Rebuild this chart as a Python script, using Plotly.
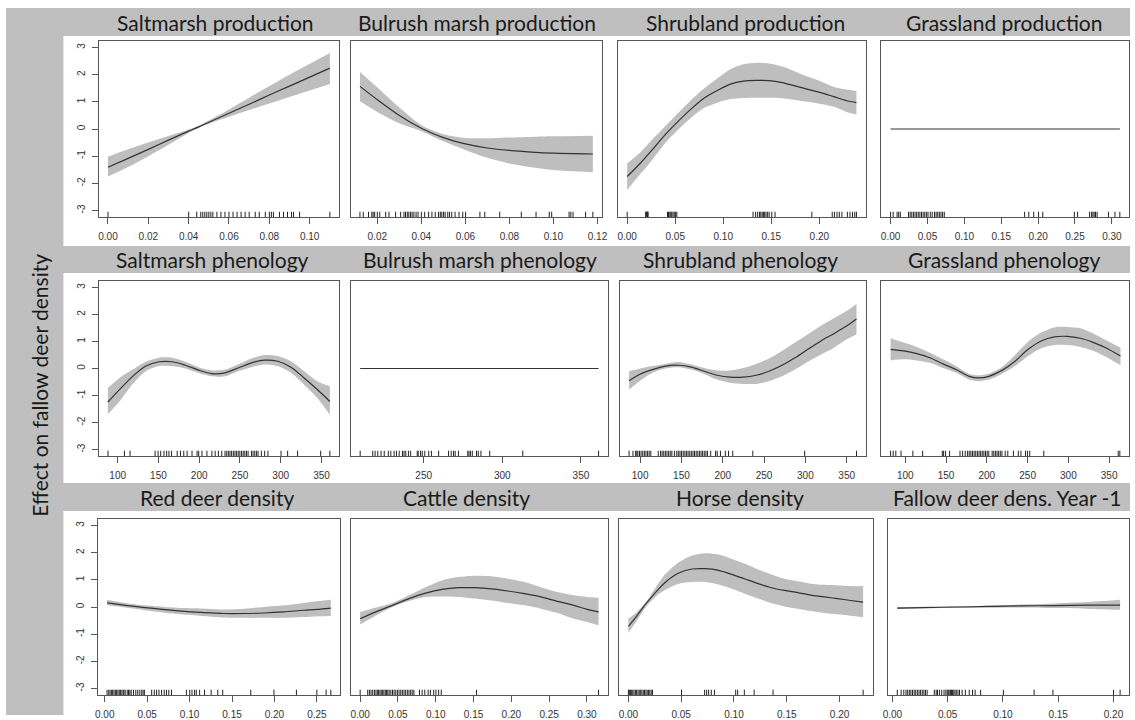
import plotly.graph_objects as go

# ---------------- data: smooth terms (fit, upper / lower band, rug) ----------------
# Saltmarsh production
salt_prod_x = [0.0, 0.01, 0.02, 0.03, 0.04, 0.045, 0.05, 0.06, 0.07, 0.08, 0.09, 0.10, 0.11]
salt_prod_fit = [-1.41, -1.08, -0.75, -0.41, -0.08, 0.08, 0.25, 0.58, 0.91, 1.25, 1.58, 1.91, 2.24]
salt_prod_up = [-1.02, -0.75, -0.50, -0.26, -0.02, 0.12, 0.31, 0.72, 1.15, 1.58, 2.00, 2.40, 2.80]
salt_prod_lo = [-1.75, -1.40, -1.00, -0.58, -0.15, 0.04, 0.19, 0.45, 0.70, 0.94, 1.18, 1.42, 1.66]
salt_prod_rug = [0.0, 0.040, 0.044, 0.046, 0.047, 0.048, 0.049, 0.050, 0.051, 0.052, 0.054, 0.056,
                 0.058, 0.060, 0.062, 0.064, 0.066, 0.068, 0.070, 0.073, 0.075, 0.078, 0.080, 0.081,
                 0.082, 0.085, 0.087, 0.089, 0.091, 0.092, 0.095, 0.110]

# Bulrush marsh production
bul_prod_x = [0.0121, 0.02, 0.03, 0.04, 0.05, 0.06, 0.07, 0.08, 0.09, 0.10, 0.1179]
bul_prod_fit = [1.57, 1.08, 0.50, 0.03, -0.32, -0.55, -0.70, -0.79, -0.85, -0.89, -0.92]
bul_prod_up = [2.10, 1.53, 0.79, 0.14, -0.19, -0.33, -0.34, -0.31, -0.29, -0.27, -0.25]
bul_prod_lo = [1.02, 0.63, 0.21, -0.08, -0.45, -0.77, -1.06, -1.27, -1.41, -1.51, -1.59]
bul_prod_rug = [0.0121, 0.0136, 0.016, 0.0175, 0.0181, 0.0188, 0.020, 0.0211, 0.0238, 0.0253, 0.0283,
                0.0306, 0.0321, 0.0328, 0.0336, 0.0343, 0.0351, 0.0358, 0.0366, 0.0376, 0.0385, 0.040,
                0.0415, 0.0433, 0.0448, 0.0463, 0.0478, 0.0486, 0.0493, 0.0501, 0.0508, 0.052, 0.0528,
                0.0538, 0.0553, 0.0571, 0.0588, 0.0601, 0.0666, 0.0688, 0.0756, 0.0854, 0.0921, 0.0981,
                0.0992, 0.1071, 0.1079, 0.1089, 0.1146, 0.1179]

# Shrubland production
shrub_prod_x = [0.0, 0.0134, 0.0269, 0.0403, 0.0538, 0.0672, 0.0806, 0.0941, 0.1075, 0.121, 0.1344,
                0.1478, 0.1613, 0.1747, 0.1882, 0.2016, 0.2151, 0.2285, 0.2386]
shrub_prod_fit = [-1.75, -1.27, -0.73, -0.18, 0.31, 0.76, 1.15, 1.42, 1.65, 1.76, 1.79, 1.78, 1.71,
                  1.59, 1.46, 1.34, 1.19, 1.04, 0.97]
shrub_prod_up = [-1.26, -0.87, -0.36, 0.13, 0.62, 1.09, 1.51, 1.87, 2.20, 2.38, 2.44, 2.41, 2.30,
                 2.12, 1.92, 1.75, 1.55, 1.45, 1.40]
shrub_prod_lo = [-2.24, -1.67, -1.10, -0.49, 0.00, 0.43, 0.79, 0.97, 1.10, 1.14, 1.15, 1.15, 1.13,
                 1.07, 1.00, 0.92, 0.82, 0.63, 0.53]
shrub_prod_rug = [0.0, 0.0192, 0.0198, 0.0205, 0.0212, 0.0218, 0.042, 0.043, 0.0444, 0.0454, 0.0464,
                  0.0477, 0.049, 0.0504, 0.0517, 0.131, 0.1337, 0.1358, 0.1378, 0.1391, 0.1405, 0.1418,
                  0.1431, 0.1445, 0.1462, 0.1478, 0.1505, 0.1539, 0.1922, 0.2134, 0.2157, 0.2184,
                  0.2208, 0.2235, 0.2292, 0.2319, 0.2345, 0.2369, 0.2386]

# Grassland production (term shrunk to zero)
grass_prod_x = [0.0, 0.3108]
grass_prod_fit = [0.0, 0.0]
grass_prod_rug = [0.0, 0.0035, 0.0088, 0.011, 0.0132, 0.0243, 0.0265, 0.0287, 0.0309, 0.0331, 0.0353,
                  0.0375, 0.0397, 0.0419, 0.0441, 0.0463, 0.0485, 0.0507, 0.0538, 0.0564, 0.0595,
                  0.0617, 0.0639, 0.0661, 0.0683, 0.0705, 0.0728, 0.1817, 0.1874, 0.194, 0.2006,
                  0.2063, 0.2491, 0.2535, 0.2698, 0.2725, 0.2743, 0.276, 0.2778, 0.28, 0.2954,
                  0.3042, 0.3108]

# Saltmarsh phenology
salt_phen_x = [88.0, 102.2, 118.4, 134.6, 150.8, 167.0, 183.1, 199.3, 215.5, 231.7, 247.8, 264.1,
               280.2, 296.4, 312.6, 328.8, 344.9, 360.3]
salt_phen_fit = [-1.24, -0.78, -0.29, 0.09, 0.25, 0.25, 0.12, -0.06, -0.19, -0.16, 0.02, 0.21,
                 0.31, 0.27, 0.05, -0.35, -0.78, -1.22]
salt_phen_up = [-0.72, -0.35, -0.04, 0.25, 0.40, 0.40, 0.25, 0.05, -0.07, -0.04, 0.15, 0.37,
                0.50, 0.46, 0.27, -0.10, -0.47, -0.66]
salt_phen_lo = [-1.69, -1.22, -0.57, -0.10, 0.09, 0.09, 0.00, -0.17, -0.29, -0.29, -0.10, 0.05,
                0.15, 0.09, -0.16, -0.60, -1.09, -1.71]
salt_phen_rug = [88.1, 108.3, 115.2, 145.9, 149.6, 152.8, 156.8, 160.1, 162.9, 166.1, 173.0, 177.1,
                 181.1, 185.2, 191.2, 197.4, 199.4, 203.4, 209.5, 215.6, 219.6, 223.6, 227.7, 231.7,
                 233.8, 235.8, 237.8, 239.8, 241.9, 243.9, 245.9, 247.9, 249.9, 252.0, 254.0, 256.0,
                 258.0, 260.0, 264.1, 266.1, 268.2, 270.2, 272.2, 276.3, 280.3, 284.3, 300.4, 308.5,
                 320.7, 349.0, 360.3]

# Bulrush marsh phenology (term shrunk to zero)
bul_phen_x = [209.6, 361.2]
bul_phen_fit = [0.0, 0.0]
bul_phen_rug = [209.6, 217.6, 219.1, 220.8, 222.9, 224.9, 227.5, 229.1, 231.2, 232.7, 234.4, 236.5,
                237.5, 238.6, 240.3, 241.7, 245.9, 246.5, 248.0, 249.1, 250.7, 253.2, 254.9, 259.5,
                265.8, 267.5, 269.0, 270.0, 272.1, 278.0, 278.8, 279.7, 280.9, 283.6, 284.7, 286.4,
                292.0, 313.0, 361.2]

# Shrubland phenology
shrub_phen_x = [86.6, 99.2, 114.9, 130.5, 146.2, 161.9, 177.6, 193.3, 209.0, 224.7, 240.4, 256.0,
                271.7, 287.4, 303.1, 318.8, 334.5, 350.2, 361.9]
shrub_phen_fit = [-0.45, -0.22, -0.04, 0.09, 0.12, 0.05, -0.10, -0.25, -0.32, -0.32, -0.25, -0.10,
                  0.12, 0.40, 0.71, 1.02, 1.29, 1.58, 1.83]
shrub_phen_up = [-0.10, -0.01, 0.09, 0.17, 0.24, 0.15, 0.02, -0.07, -0.07, 0.02, 0.17, 0.37, 0.65,
                 0.96, 1.27, 1.58, 1.86, 2.14, 2.39]
shrub_phen_lo = [-0.78, -0.47, -0.16, 0.00, 0.05, -0.04, -0.20, -0.41, -0.53, -0.57, -0.57, -0.47,
                 -0.29, -0.04, 0.25, 0.52, 0.77, 1.08, 1.27]
shrub_phen_rug = [86.6, 91.3, 94.5, 96.0, 97.2, 99.2, 101.1, 103.1, 105.1, 107.0, 109.0, 110.9, 112.9,
                  121.9, 124.7, 126.6, 128.6, 130.5, 132.5, 134.5, 136.4, 138.4, 141.5, 144.3, 146.2,
                  148.2, 150.1, 152.1, 154.1, 156.0, 158.0, 160.0, 161.9, 163.9, 165.8, 167.8, 169.8,
                  171.7, 173.7, 175.6, 177.6, 179.6, 181.5, 185.4, 191.3, 193.3, 197.2, 203.1, 207.0,
                  212.1, 236.4, 299.2, 361.9]

# Grassland phenology
grass_phen_x = [82.0, 98.0, 114.1, 130.2, 146.2, 162.3, 178.3, 190.4, 202.4, 218.5, 234.6, 250.6,
                266.7, 282.8, 298.8, 314.9, 331.0, 347.0, 363.9]
grass_phen_fit = [0.71, 0.65, 0.55, 0.40, 0.17, -0.04, -0.29, -0.35, -0.29, -0.07, 0.27, 0.71, 1.02,
                  1.17, 1.19, 1.12, 0.96, 0.75, 0.46]
grass_phen_up = [1.12, 0.96, 0.80, 0.58, 0.34, 0.09, -0.20, -0.25, -0.19, 0.05, 0.50, 0.99, 1.33,
                 1.52, 1.54, 1.49, 1.29, 1.04, 0.77]
grass_phen_lo = [0.30, 0.34, 0.30, 0.21, 0.02, -0.16, -0.41, -0.47, -0.41, -0.20, 0.09, 0.46, 0.75,
                 0.87, 0.87, 0.80, 0.65, 0.42, 0.12]
grass_phen_rug = [82.0, 85.2, 88.4, 94.8, 109.3, 121.3, 145.4, 147.0, 149.4, 154.3, 167.1, 170.3,
                  173.5, 176.4, 178.4, 180.4, 182.4, 184.4, 186.4, 188.4, 190.4, 192.4, 194.4, 196.4,
                  198.4, 200.4, 202.4, 206.5, 208.5, 210.5, 212.5, 214.5, 216.5, 218.5, 222.5, 225.7,
                  232.6, 238.6, 241.8, 247.4, 249.8, 252.6, 269.9, 361.1, 363.1]

# Red deer density
red_x = [0.0027, 0.0241, 0.0475, 0.0709, 0.0942, 0.1176, 0.141, 0.1643, 0.1877, 0.2111, 0.2344,
         0.25, 0.2664]
red_fit = [0.15, 0.06, -0.02, -0.10, -0.16, -0.21, -0.24, -0.24, -0.22, -0.18, -0.12, -0.09, -0.04]
red_up = [0.27, 0.15, 0.06, 0.00, -0.04, -0.06, -0.09, -0.06, 0.00, 0.06, 0.15, 0.21, 0.27]
red_lo = [0.06, -0.02, -0.12, -0.21, -0.28, -0.34, -0.39, -0.40, -0.40, -0.40, -0.37, -0.34, -0.33]
red_rug = [0.0027, 0.0047, 0.0062, 0.0078, 0.0093, 0.0109, 0.0125, 0.014, 0.0156, 0.0171, 0.0187,
           0.0202, 0.0218, 0.0226, 0.0241, 0.0265, 0.028, 0.0296, 0.0312, 0.0339, 0.0366, 0.0389,
           0.0413, 0.0436, 0.0452, 0.0467, 0.0553, 0.0584, 0.0611, 0.0639, 0.067, 0.0701, 0.0728,
           0.0755, 0.0787, 0.0962, 0.1001, 0.1028, 0.1059, 0.1079, 0.1118, 0.1176, 0.1254, 0.1332,
           0.139, 0.1721, 0.1994, 0.2259, 0.25, 0.2609, 0.2664]

# Cattle density
cattle_x = [0.0, 0.0209, 0.0428, 0.0646, 0.0864, 0.1082, 0.13, 0.1518, 0.1736, 0.1955, 0.2173,
            0.2391, 0.2609, 0.2827, 0.3002, 0.3154]
cattle_fit = [-0.43, -0.18, 0.06, 0.31, 0.51, 0.65, 0.71, 0.71, 0.67, 0.59, 0.49, 0.37, 0.21, 0.06,
              -0.09, -0.18]
cattle_up = [-0.18, -0.02, 0.15, 0.43, 0.73, 0.98, 1.10, 1.15, 1.13, 1.04, 0.92, 0.73, 0.55, 0.43,
             0.37, 0.34]
cattle_lo = [-0.64, -0.31, 0.00, 0.22, 0.37, 0.39, 0.37, 0.31, 0.24, 0.15, 0.06, -0.06, -0.22,
             -0.43, -0.55, -0.67]
cattle_rug = [0.0, 0.01, 0.0122, 0.0144, 0.0166, 0.0188, 0.0209, 0.0227, 0.0244, 0.0262, 0.0279,
              0.0297, 0.0314, 0.0332, 0.0349, 0.0366, 0.0384, 0.0406, 0.0428, 0.0449, 0.0471, 0.0493,
              0.0515, 0.0537, 0.0558, 0.058, 0.0602, 0.0624, 0.0646, 0.0668, 0.0689, 0.0711, 0.0785,
              0.082, 0.0855, 0.0899, 0.0929, 0.0973, 0.1003, 0.1038, 0.1073, 0.154, 0.3154]

# Horse density
horse_x = [0.0, 0.0072, 0.0166, 0.026, 0.0353, 0.0478, 0.0604, 0.0729, 0.0854, 0.0979, 0.1104,
           0.1229, 0.1354, 0.1479, 0.1604, 0.1729, 0.1854, 0.1979, 0.2104, 0.2223]
horse_fit = [-0.71, -0.37, 0.12, 0.55, 0.92, 1.25, 1.40, 1.41, 1.35, 1.20, 1.03, 0.86, 0.71, 0.61,
             0.53, 0.44, 0.37, 0.31, 0.24, 0.18]
horse_up = [-0.43, -0.22, 0.18, 0.73, 1.22, 1.65, 1.90, 1.98, 1.93, 1.77, 1.59, 1.38, 1.20, 1.04,
            0.95, 0.86, 0.82, 0.80, 0.77, 0.77]
horse_lo = [-0.95, -0.55, 0.00, 0.39, 0.64, 0.86, 0.92, 0.92, 0.83, 0.67, 0.49, 0.31, 0.15, 0.02,
            -0.06, -0.15, -0.22, -0.27, -0.32, -0.37]
horse_rug = [0.0, 0.0009, 0.0019, 0.0028, 0.0041, 0.0053, 0.0066, 0.0078, 0.0091, 0.0103, 0.0116,
             0.0128, 0.0141, 0.0153, 0.0166, 0.0178, 0.0191, 0.0203, 0.0216, 0.0228, 0.0503, 0.0722,
             0.0741, 0.076, 0.0785, 0.0816, 0.1016, 0.1035, 0.1098, 0.1191, 0.137, 0.2223]

# Fallow deer density, previous year
fallow_x = [0.0044, 0.0285, 0.0578, 0.0871, 0.1165, 0.1458, 0.1752, 0.206]
fallow_fit = [-0.04, -0.02, 0.00, 0.02, 0.04, 0.05, 0.07, 0.07]
fallow_up = [0.00, 0.01, 0.02, 0.05, 0.09, 0.13, 0.18, 0.27]
fallow_lo = [-0.07, -0.05, -0.04, -0.03, -0.02, -0.04, -0.06, -0.10]
fallow_rug = [0.0044, 0.0079, 0.0103, 0.0123, 0.0138, 0.0153, 0.0167, 0.0182, 0.0197, 0.0211, 0.0226,
              0.0241, 0.0255, 0.027, 0.0285, 0.0299, 0.0314, 0.0379, 0.0396, 0.0408, 0.0425, 0.0446,
              0.0467, 0.0484, 0.0496, 0.0505, 0.0513, 0.0525, 0.0534, 0.0543, 0.0555, 0.0566, 0.0578,
              0.0593, 0.0607, 0.0631, 0.066, 0.0695, 0.0725, 0.0748, 0.0798, 0.1004, 0.1282, 0.1452,
              0.2001, 0.206]

# ---------------- axis ticks ----------------
ticks_salt_prod = [0.00, 0.02, 0.04, 0.06, 0.08, 0.10]
labels_salt_prod = ["0.00", "0.02", "0.04", "0.06", "0.08", "0.10"]
ticks_bul_prod = [0.02, 0.04, 0.06, 0.08, 0.10, 0.12]
labels_bul_prod = ["0.02", "0.04", "0.06", "0.08", "0.10", "0.12"]
ticks_shrub_prod = [0.00, 0.05, 0.10, 0.15, 0.20]
labels_shrub_prod = ["0.00", "0.05", "0.10", "0.15", "0.20"]
ticks_grass_prod = [0.00, 0.05, 0.10, 0.15, 0.20, 0.25, 0.30]
labels_grass_prod = ["0.00", "0.05", "0.10", "0.15", "0.20", "0.25", "0.30"]
ticks_doy = [100, 150, 200, 250, 300, 350]
labels_doy = ["100", "150", "200", "250", "300", "350"]
ticks_bul_phen = [250, 300, 350]
labels_bul_phen = ["250", "300", "350"]
ticks_red = [0.00, 0.05, 0.10, 0.15, 0.20, 0.25]
labels_red = ["0.00", "0.05", "0.10", "0.15", "0.20", "0.25"]
ticks_cattle = [0.00, 0.05, 0.10, 0.15, 0.20, 0.25, 0.30]
labels_cattle = ["0.00", "0.05", "0.10", "0.15", "0.20", "0.25", "0.30"]
ticks_020 = [0.00, 0.05, 0.10, 0.15, 0.20]
labels_020 = ["0.00", "0.05", "0.10", "0.15", "0.20"]
y_ticks = [-3, -2, -1, 0, 1, 2, 3]
y_labels = ["-3", "-2", "-1", "0", "1", "2", "3"]

titles = ["Saltmarsh production", "Bulrush marsh production", "Shrubland production",
          "Grassland production", "Saltmarsh phenology", "Bulrush marsh phenology",
          "Shrubland phenology", "Grassland phenology", "Red deer density", "Cattle density",
          "Horse density", "Fallow deer dens. Year -1"]
y_title = "Effect on fallow deer density"

panels = [
    (salt_prod_x, salt_prod_fit, salt_prod_up, salt_prod_lo, salt_prod_rug, ticks_salt_prod, labels_salt_prod),
    (bul_prod_x, bul_prod_fit, bul_prod_up, bul_prod_lo, bul_prod_rug, ticks_bul_prod, labels_bul_prod),
    (shrub_prod_x, shrub_prod_fit, shrub_prod_up, shrub_prod_lo, shrub_prod_rug, ticks_shrub_prod, labels_shrub_prod),
    (grass_prod_x, grass_prod_fit, None, None, grass_prod_rug, ticks_grass_prod, labels_grass_prod),
    (salt_phen_x, salt_phen_fit, salt_phen_up, salt_phen_lo, salt_phen_rug, ticks_doy, labels_doy),
    (bul_phen_x, bul_phen_fit, None, None, bul_phen_rug, ticks_bul_phen, labels_bul_phen),
    (shrub_phen_x, shrub_phen_fit, shrub_phen_up, shrub_phen_lo, shrub_phen_rug, ticks_doy, labels_doy),
    (grass_phen_x, grass_phen_fit, grass_phen_up, grass_phen_lo, grass_phen_rug, ticks_doy, labels_doy),
    (red_x, red_fit, red_up, red_lo, red_rug, ticks_red, labels_red),
    (cattle_x, cattle_fit, cattle_up, cattle_lo, cattle_rug, ticks_cattle, labels_cattle),
    (horse_x, horse_fit, horse_up, horse_lo, horse_rug, ticks_020, labels_020),
    (fallow_x, fallow_fit, fallow_up, fallow_lo, fallow_rug, ticks_020, labels_020),
]

# ---------------- page geometry (pixels) ----------------
W, H = 1135, 720
box_x = [[(94, 336), (348, 602), (618, 868), (884, 1134)],
         [(94, 336), (348, 608), (620, 868), (884, 1134)],
         [(93, 337), (348, 608), (619, 875), (891, 1134)]]
box_y = [(41, 217), (281, 456), (519, 695)]
title_x = [[212, 476, 747, 1008], [209, 479, 742, 1008], [213, 465, 741, 1011]]
strip_y = [(8, 36), (246, 273), (483, 511)]
white_rows = [(36, 246), (273, 483), (511, 720)]

STRIP = "#bfbfbf"
BAND = "#bebebe"
LINE = "#333333"
FRAME = "#555555"
TICKFONT = dict(family="Liberation Sans, Arial, sans-serif", size=10, color="#333333")
TITLEFONT = dict(family="Lato, Calibri, sans-serif", size=21, color="#1a1a1a", weight=400)
Y_LO, Y_HI = -3.24, 3.24
RUG_TOP = Y_LO + 0.03 * (Y_HI - Y_LO)

fig = go.Figure()
layout = {}

for i, (xs, fit, up, lo, rug, tv, tt) in enumerate(panels):
    n = i + 1
    row, col = divmod(i, 4)
    xa = "x" if n == 1 else f"x{n}"
    ya = "y" if n == 1 else f"y{n}"

    if up is not None:
        fig.add_trace(go.Scatter(x=xs, y=lo, mode="lines", line=dict(width=0, shape="spline", smoothing=0.8),
                                 xaxis=xa, yaxis=ya, hoverinfo="skip", showlegend=False))
        fig.add_trace(go.Scatter(x=xs, y=up, mode="lines", line=dict(width=0, shape="spline", smoothing=0.8),
                                 fill="tonexty", fillcolor=BAND, xaxis=xa, yaxis=ya,
                                 hoverinfo="skip", showlegend=False))
    fig.add_trace(go.Scatter(x=xs, y=fit, mode="lines",
                             line=dict(color=LINE, width=1.2, shape="spline", smoothing=0.8),
                             xaxis=xa, yaxis=ya, showlegend=False))

    # rug along the bottom of the panel
    rx, ry = [], []
    for r in rug:
        rx += [r, r, None]
        ry += [Y_LO, RUG_TOP, None]
    fig.add_trace(go.Scatter(x=rx, y=ry, mode="lines", line=dict(color="#222222", width=1),
                             xaxis=xa, yaxis=ya, hoverinfo="skip", showlegend=False))

    lo_x, hi_x = min(rug), max(rug)
    pad = 0.04 * (hi_x - lo_x)
    x0, x1 = box_x[row][col]
    y0, y1 = box_y[row]
    layout["xaxis" if n == 1 else f"xaxis{n}"] = dict(
        domain=[x0 / W, x1 / W], range=[lo_x - pad, hi_x + pad], anchor=ya,
        tickvals=tv, ticktext=tt, ticks="outside", ticklen=6, tickcolor=FRAME, tickwidth=1,
        showline=True, linecolor=FRAME, linewidth=1, mirror=True,
        showgrid=False, zeroline=False, tickfont=TICKFONT, ticklabelstandoff=4)
    yax = dict(domain=[1 - y1 / H, 1 - y0 / H], range=[Y_LO, Y_HI], anchor=xa,
               showline=True, linecolor=FRAME, linewidth=1, mirror=True,
               showgrid=False, zeroline=False)
    if col == 0:
        yax.update(tickmode="array", tickvals=y_ticks, ticktext=y_labels, ticks="outside", ticklen=6,
                   tickcolor=FRAME, tickwidth=1, tickangle=-90, tickfont=TICKFONT, ticklabelstandoff=3)
    else:
        yax.update(showticklabels=False, ticks="")
    layout["yaxis" if n == 1 else f"yaxis{n}"] = yax

# grey frame, white rows, title strips
shapes = [dict(type="rect", xref="paper", yref="paper", x0=0, x1=1, y0=1 - 715 / H, y1=1 - 8 / H,
               fillcolor=STRIP, line=dict(width=0), layer="below")]
for (a, b) in white_rows:
    shapes.append(dict(type="rect", xref="paper", yref="paper", x0=58 / W, x1=1, y0=1 - b / H, y1=1 - a / H,
                       fillcolor="white", line=dict(width=0), layer="below"))

annotations = []
for row in range(3):
    sy = (strip_y[row][0] + strip_y[row][1]) / 2
    for col in range(4):
        annotations.append(dict(text=titles[row * 4 + col], xref="paper", yref="paper",
                                x=title_x[row][col] / W, y=1 - sy / H, xanchor="center", yanchor="middle",
                                showarrow=False, font=TITLEFONT))
annotations.append(dict(text=y_title, xref="paper", yref="paper", x=33 / W, y=1 - 385 / H,
                        xanchor="center", yanchor="middle", textangle=-90, showarrow=False, font=TITLEFONT))

fig.update_layout(width=W, height=H, margin=dict(l=0, r=0, t=0, b=0), paper_bgcolor="white",
                  plot_bgcolor="white", shapes=shapes, annotations=annotations, **layout)

fig.write_html("out.html")
